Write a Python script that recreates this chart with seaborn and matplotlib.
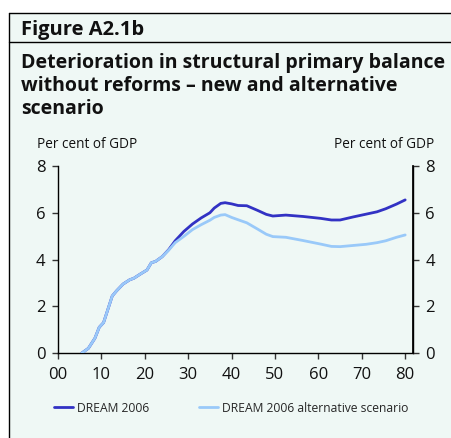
import matplotlib
matplotlib.use("Agg")
import matplotlib.pyplot as plt
import seaborn as sns
import pandas as pd
from matplotlib.patches import Rectangle
from matplotlib.lines import Line2D

# ---- data ----
years = [5.5, 7, 8.5, 9.5, 10.5, 12.5, 13.5, 15, 16.5, 17.5, 19, 20.5, 21.5, 22.5, 24,
         25.5, 27, 29, 31, 33, 35, 36, 37.5, 38.5, 40, 41.5, 43.5, 46, 48, 49.5, 52.5,
         56.5, 60.5, 63, 65, 68, 71, 73.5, 75.5, 78, 80]
dream_2006 = [0.0, 0.2, 0.63, 1.1, 1.3, 2.44, 2.66, 2.95, 3.13, 3.2, 3.38, 3.55, 3.86, 3.92, 4.12,
              4.42, 4.80, 5.20, 5.52, 5.78, 6.0, 6.2, 6.4, 6.43, 6.38, 6.31, 6.30, 6.10, 5.93, 5.86, 5.90,
              5.84, 5.76, 5.69, 5.69, 5.82, 5.94, 6.04, 6.17, 6.37, 6.55]
dream_alt = [0.0, 0.2, 0.63, 1.1, 1.3, 2.44, 2.66, 2.95, 3.13, 3.2, 3.38, 3.55, 3.86, 3.92, 4.12,
             4.40, 4.72, 4.99, 5.28, 5.49, 5.68, 5.80, 5.90, 5.92, 5.80, 5.70, 5.57, 5.30, 5.08, 4.98, 4.95,
             4.81, 4.66, 4.56, 4.55, 4.60, 4.65, 4.72, 4.80, 4.95, 5.05]
series_names = ["DREAM 2006", "DREAM 2006 alternative scenario"]
x_ticks = [0, 10, 20, 30, 40, 50, 60, 70, 80]
x_tick_labels = ["00", "10", "20", "30", "40", "50", "60", "70", "80"]
y_ticks = [0, 2, 4, 6, 8]

df = pd.DataFrame({
    "year": years * 2,
    "value": dream_2006 + dream_alt,
    "series": [series_names[0]] * len(years) + [series_names[1]] * len(years),
})

sns.set_theme(style="white")
plt.rcParams["font.family"] = ["Open Sans", "DejaVu Sans"]

MINT = "#eff8f5"
DARK = "#3232c4"
LIGHT = "#99c9f9"

W, H = 451, 438
fig = plt.figure(figsize=(W / 100, H / 100), dpi=100, facecolor="white")

def fx(px):
    return px / W

def fy(py):
    return 1 - py / H

# background panel
bg = Rectangle((fx(9), 0), 1 - fx(9), fy(13), transform=fig.transFigure,
               facecolor=MINT, edgecolor="none", zorder=-10)
fig.add_artist(bg)
# frame lines
fig.add_artist(Line2D([fx(9), 1], [fy(13), fy(13)], color="black", lw=1.0, transform=fig.transFigure))
fig.add_artist(Line2D([fx(9), 1], [fy(42), fy(42)], color="black", lw=1.0, transform=fig.transFigure))
fig.add_artist(Line2D([fx(9), fx(9)], [0, fy(13)], color="black", lw=1.0, transform=fig.transFigure))

# titles
fig.text(fx(21), fy(35), "Figure A2.1b", fontsize=14.5, fontweight="bold", color="#111111")
fig.text(fx(21), fy(68), "Deterioration in structural primary balance", fontsize=14,
         fontweight="bold", color="#111111")
fig.text(fx(21), fy(91), "without reforms – new and alternative", fontsize=14,
         fontweight="bold", color="#111111")
fig.text(fx(21), fy(114), "scenario", fontsize=14, fontweight="bold", color="#111111")

ax = fig.add_axes([fx(58), fy(353), fx(413) - fx(58), fy(166) - fy(353)])
ax.set_facecolor("none")
sns.lineplot(data=df, x="year", y="value", hue="series", hue_order=series_names,
             palette=[DARK, LIGHT], linewidth=2.0, ax=ax, legend=False, sort=False)
ax.lines[1].set_zorder(3)

ax.set_xlim(0, 81.8)
ax.set_ylim(0, 8)
ax.set_xticks(x_ticks)
ax.set_xticklabels(x_tick_labels)
ax.set_yticks(y_ticks)
ax.set_xlabel("")
ax.set_ylabel("")
ax.spines["top"].set_visible(False)
for s in ["left", "right", "bottom"]:
    ax.spines[s].set_visible(True)
    ax.spines[s].set_color("black")
    ax.spines[s].set_linewidth(1.0)
ax.tick_params(axis="both", which="major", direction="out", length=4, width=1,
               color="#333333", labelsize=12, labelcolor="#111111",
               left=True, bottom=True)
ax.tick_params(axis="y", pad=5)
ax.tick_params(axis="x", pad=6)

ax2 = ax.twinx()
ax2.set_ylim(0, 8)
ax2.set_yticks(y_ticks)
ax2.spines["top"].set_visible(False)
ax2.spines["left"].set_visible(False)
ax2.spines["bottom"].set_visible(False)
ax2.spines["right"].set_color("black")
ax2.tick_params(axis="y", direction="out", length=4, width=1, color="#333333",
                labelsize=12, labelcolor="#111111", pad=5, right=True)

fig.text(fx(37), fy(148), "Per cent of GDP", fontsize=9.8, color="#111111")
fig.text(fx(434), fy(148), "Per cent of GDP", fontsize=9.8, color="#111111", ha="right")

handles = [Line2D([], [], color=DARK, lw=2), Line2D([], [], color=LIGHT, lw=2)]
fig.legend(handles, series_names, loc="center left", bbox_to_anchor=(fx(43), fy(408)),
           ncol=2, frameon=False, fontsize=8.7, handlelength=1.6, handletextpad=0.3,
           columnspacing=4.1)

fig.savefig("out.png", dpi=100, facecolor="white")
